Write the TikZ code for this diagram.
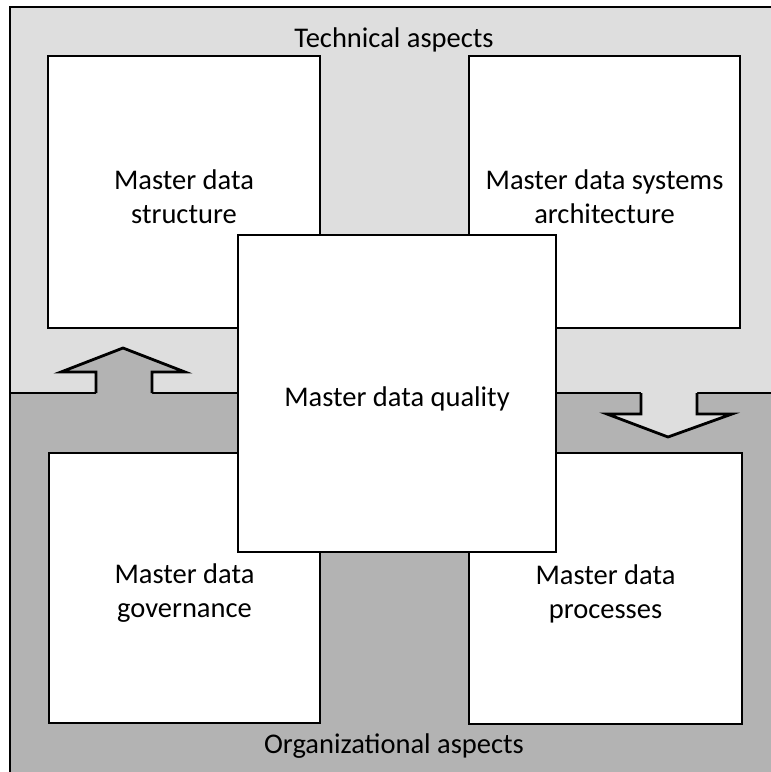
\documentclass[tikz,border=0pt]{standalone}
\usepackage{fontspec}
\setmainfont{Carlito}
\begin{document}
\begin{tikzpicture}[x=1pt,y=-1pt,line join=miter,
  ln/.style={line width=2.8pt},
  box/.style={draw,ln,fill=white,inner sep=0pt},
  lbl/.style={font=\fontsize{28.5}{34}\selectfont,inner sep=0pt,align=center}]
\definecolor{techgray}{HTML}{DEDEDE}
\definecolor{orggray}{HTML}{B3B3B3}
\useasboundingbox (0,0) rectangle (771,772);
% regions
\fill[techgray] (10,7) rectangle (771,393);
\fill[orggray] (10,393) rectangle (771,772);
\draw[ln] (10,772) -- (10,7) -- (771,7);
% divider
\draw[ln] (10,393) -- (96,393);
\draw[ln] (152,393) -- (641,393);
\draw[ln] (697,393) -- (771,393);
% arrows
\fill[orggray] (96,394) -- (96,372) -- (61,372) -- (123,348) -- (185,372) -- (152,372) -- (152,394) -- cycle;
\draw[ln] (96,393) -- (96,372) -- (61,372) -- (123,348) -- (185,372) -- (152,372) -- (152,393);
\fill[techgray] (641,392) -- (641,414) -- (607,414) -- (668,437) -- (732,414) -- (697,414) -- (697,392) -- cycle;
\draw[ln] (641,393) -- (641,414) -- (607,414) -- (668,437) -- (732,414) -- (697,414) -- (697,393);
% region labels
\node[lbl] (tech) at (394,40) {Technical aspects};
\node[lbl] (org) at (394,746) {Organizational aspects};
% boxes
\node[box,minimum width=272pt,minimum height=272pt] (struct) at (184,192) {};
\node[lbl] at ([yshift=-5pt]struct.center) {Master data\\structure};
\node[box,minimum width=271pt,minimum height=272pt] (arch) at (604.5,192) {};
\node[lbl] at ([yshift=-5pt]arch.center) {Master data systems\\architecture};
\node[box,minimum width=271pt,minimum height=270pt] (gov) at (184.5,588) {};
\node[lbl] at ([yshift=-5pt]gov.center) {Master data\\governance};
\node[box,minimum width=273pt,minimum height=271pt] (proc) at (605.5,588.5) {};
\node[lbl] at ([yshift=-5pt]proc.center) {Master data\\processes};
\node[box,minimum width=318pt,minimum height=317pt] (qual) at (397,393.5) {};
\node[lbl] at ([yshift=-5pt]qual.center) {Master data quality};
\end{tikzpicture}
\end{document}
